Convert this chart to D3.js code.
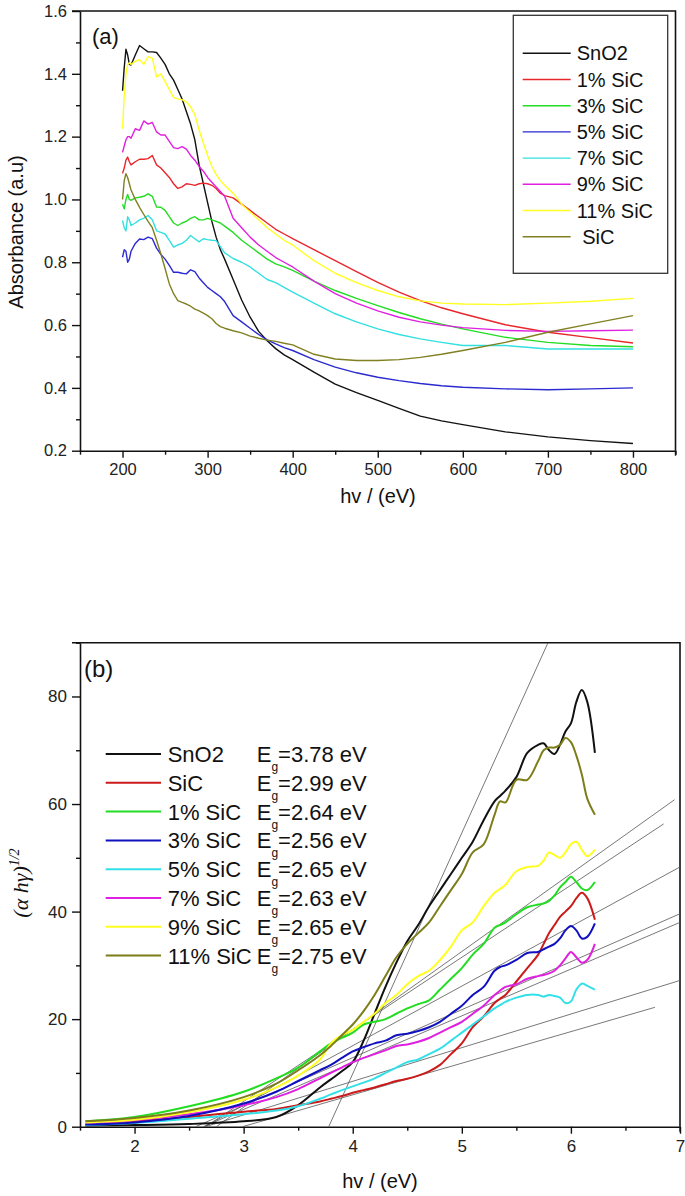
<!DOCTYPE html>
<html><head><meta charset="utf-8">
<script src="https://cdn.jsdelivr.net/npm/d3@7"></script>
<style>
body{margin:0;background:#fff;}
svg{display:block;font-family:"Liberation Sans",Arial,sans-serif;}
</style></head>
<body><svg id="c" width="685" height="1196"></svg>
<script>
// ---------- Panel (a) data ----------
const topX = [200,202,204,206,208,210,215,220,225,230,235,240,245,250,255,260,265,270,275,280,285,290,295,300,305,310,315,320,330,340,350,360,370,380,390,400,425,450,475,500,525,550,575,600,650,700,750,800];
const aSnO2 = [1.346,1.42,1.478,1.46,1.43,1.428,1.46,1.49,1.48,1.47,1.47,1.468,1.45,1.43,1.40,1.38,1.35,1.32,1.28,1.24,1.19,1.11,1.05,0.99,0.93,0.88,0.84,0.81,0.745,0.68,0.625,0.58,0.55,0.525,0.505,0.49,0.45,0.412,0.385,0.36,0.335,0.31,0.295,0.283,0.26,0.244,0.232,0.223];
const a1 = [1.083,1.10,1.125,1.135,1.12,1.11,1.12,1.128,1.128,1.13,1.14,1.11,1.10,1.085,1.07,1.05,1.035,1.04,1.05,1.048,1.045,1.05,1.052,1.05,1.045,1.035,1.02,1.012,1.005,0.985,0.965,0.945,0.925,0.905,0.89,0.875,0.84,0.805,0.77,0.736,0.705,0.678,0.655,0.636,0.601,0.577,0.56,0.543];
const a3 = [0.985,0.97,1.0,1.016,1.0,0.997,1.005,1.007,1.01,1.018,1.01,0.976,0.975,0.965,0.945,0.925,0.917,0.925,0.93,0.94,0.945,0.935,0.935,0.94,0.935,0.93,0.925,0.915,0.895,0.87,0.85,0.83,0.81,0.795,0.785,0.774,0.74,0.71,0.685,0.662,0.64,0.62,0.603,0.588,0.561,0.545,0.535,0.531];
const a5 = [0.816,0.84,0.835,0.80,0.81,0.835,0.86,0.874,0.872,0.88,0.875,0.845,0.825,0.81,0.79,0.768,0.768,0.765,0.763,0.776,0.77,0.75,0.735,0.72,0.71,0.70,0.69,0.675,0.63,0.61,0.59,0.57,0.553,0.54,0.528,0.519,0.49,0.466,0.448,0.434,0.423,0.414,0.407,0.402,0.397,0.394,0.397,0.40];
const a7 = [0.933,0.91,0.90,0.945,0.935,0.917,0.925,0.935,0.94,0.949,0.935,0.90,0.895,0.89,0.87,0.848,0.855,0.86,0.87,0.885,0.875,0.865,0.875,0.872,0.87,0.869,0.85,0.83,0.812,0.80,0.785,0.765,0.745,0.735,0.72,0.705,0.67,0.636,0.61,0.588,0.57,0.556,0.545,0.535,0.535,0.524,0.524,0.524];
const a9 = [1.15,1.17,1.19,1.20,1.20,1.195,1.225,1.22,1.25,1.24,1.245,1.215,1.205,1.205,1.185,1.165,1.162,1.168,1.16,1.14,1.125,1.105,1.09,1.07,1.055,1.04,1.025,1.01,0.94,0.91,0.88,0.855,0.835,0.815,0.80,0.785,0.74,0.70,0.67,0.645,0.625,0.61,0.60,0.592,0.583,0.58,0.582,0.584];
const a11 = [1.225,1.33,1.40,1.43,1.435,1.43,1.44,1.445,1.43,1.455,1.45,1.39,1.40,1.375,1.35,1.325,1.32,1.318,1.31,1.295,1.27,1.22,1.18,1.14,1.105,1.08,1.06,1.045,1.02,0.985,0.96,0.935,0.91,0.89,0.87,0.855,0.805,0.765,0.735,0.71,0.69,0.677,0.67,0.667,0.665,0.67,0.676,0.685];
const aSiC = [1.0,1.06,1.082,1.07,1.05,1.03,1.0,0.975,0.952,0.93,0.91,0.87,0.827,0.78,0.731,0.70,0.678,0.672,0.667,0.66,0.651,0.645,0.638,0.63,0.62,0.605,0.595,0.59,0.582,0.575,0.565,0.558,0.552,0.548,0.542,0.537,0.507,0.492,0.487,0.487,0.49,0.497,0.507,0.519,0.545,0.577,0.604,0.63];
const aNames = ["SnO2","1% SiC","3% SiC","5% SiC","7% SiC","9% SiC","11% SiC"," SiC"];
const aColors = ["#111111","#e8262b","#22dd22","#2a2ad0","#33e0e0","#e020e0","#ffff22","#808022"];
const aSeries = [aSnO2,a1,a3,a5,a7,a9,a11,aSiC];
const aXTicks = [200,300,400,500,600,700,800];
const aYTicks = [0.2,0.4,0.6,0.8,1.0,1.2,1.4,1.6];

// ---------- Panel (b) data ----------
const botX = [1.55,2.0,2.5,3.0,3.3,3.5,3.7,3.8,3.9,4.0,4.1,4.2,4.3,4.4,4.5,4.6,4.7,4.8,4.9,5.0,5.1,5.2,5.3,5.35,5.4,5.5,5.6,5.7,5.75,5.8,5.85,5.9,5.95,6.0,6.05,6.1,6.15,6.22];
const bSnO2 = [0.2,0.3,0.5,1.0,1.8,4.0,7.3,8.8,10.3,12,16,21,26,30.5,34.5,37.5,41,44,47,50,53,57,60.5,61.5,62.5,65,69.5,71,71.3,70,69.3,71,73.5,75,79,81.2,79,69.5];
const bSiC = [0.4,1.0,1.8,2.8,3.3,4.0,4.7,5.2,5.7,6.3,6.8,7.3,7.9,8.5,8.9,9.5,10.3,11.5,13.5,15.5,18.5,20.5,23,23.8,24.5,27,29.5,32,34,36,37.5,39,40,41,42.5,43.5,42.5,38.5];
const b1 = [1.0,1.8,3.8,6.5,9,11,14,15.5,16.5,17.5,19,19.5,20,21,22,22.8,23.5,25.5,27.5,29.5,32,34,37,37.5,38,39.5,40.8,41.3,41.5,42,43,44.5,45.5,46.5,45.5,44.3,44,45.5];
const b3 = [0.4,0.8,2.0,4.3,6.5,8.5,10.5,11.5,12.8,14,14.8,15.5,16,17,17.3,17.8,18.5,19.5,21,22.5,24.5,26,29,29.7,30,31,32.3,32.5,33,33.5,34,35,36.5,37.3,36.5,35,35.3,37.8];
const b5 = [0.3,0.7,1.5,2.3,3.0,3.8,5.2,6.0,6.8,7.5,8.2,9.0,10,11,12,12.5,13.5,14.5,16,17.5,19,20.5,22,22.6,23.2,24,24.5,24.5,24.2,24.5,24.3,24,23,23.3,25.5,26.6,26.2,25.5];
const b7 = [0.6,1.2,2.3,4.0,5.5,7.0,9.0,10,11,12,12.8,13.5,14.2,15,15.3,15.8,16.5,17.5,18.5,19.5,21,22.5,24.5,25.3,26,26.5,27.5,28,28.2,28.5,29,30,31.3,32.5,31.5,30.5,31,34];
const b9 = [0.8,1.3,2.7,5,7.3,9.5,12.5,15.5,17,18,19.5,21,23,24.5,26.5,28,29,31,33.5,36.5,38,41,43.5,44.2,45,47.5,48.3,48.5,49.5,51,50.5,50,51,52.5,53,51.5,50.3,51.5];
const b11 = [1.0,1.6,3.0,5.5,8,10.5,13.3,15,17,19,21.5,24.5,28,31.5,34,36,38,41,44,47,51,52.5,58,60.5,60.3,64.5,64.5,68,70,70.5,70.5,71,72.3,71.5,69,65.5,61,58];
const bNames = ["SnO2","SiC","1% SiC","3% SiC","5% SiC","7% SiC","9% SiC","11% SiC"];
const bEg = ["3.78","2.99","2.64","2.56","2.65","2.63","2.65","2.75"];
const bColors = ["#111111","#cc1a1a","#22dd22","#1010c0","#33e0e8","#e020e0","#ffff22","#7d7d1a"];
const bSeries = [bSnO2,bSiC,b1,b3,b5,b7,b9,b11];
// tangent (fit) lines: x-intercept (Eg) and far end point
const tanStart = [3.78,2.75,2.65,2.64,2.56,2.63,2.65,2.99];
const tanEndX  = [5.79,6.95,6.85,7.0,7.0,7.0,7.0,6.77];
const tanEndY  = [90,60.8,56.3,48.3,39.6,38.0,27.2,22.2];
const bXTicks = [2,3,4,5,6,7];
const bYTicks = [0,20,40,60,80];

const svg = d3.select("#c");

function drawAxes(g, x, y, xMajor, xMinor, yMajor, yMinor, fmtX, fmtY, fs){
  const [x0,x1] = x.range(), [y0,y1] = y.range();
  g.append("g").attr("transform",`translate(0,${y0})`)
    .call(d3.axisBottom(x).tickValues(xMinor).tickSize(4).tickSizeOuter(0).tickFormat(""))
    .call(s=>s.select(".domain").remove());
  g.append("g").attr("transform",`translate(${x0},0)`)
    .call(d3.axisLeft(y).tickValues(yMinor).tickSize(4).tickSizeOuter(0).tickFormat(""))
    .call(s=>s.select(".domain").remove());
  const xa = g.append("g").attr("transform",`translate(0,${y0})`)
    .call(d3.axisBottom(x).tickValues(xMajor).tickSize(7).tickSizeOuter(0).tickPadding(6).tickFormat(fmtX));
  const ya = g.append("g").attr("transform",`translate(${x0},0)`)
    .call(d3.axisLeft(y).tickValues(yMajor).tickSize(8).tickSizeOuter(0).tickPadding(5).tickFormat(fmtY));
  [xa,ya].forEach(a=>{
    a.selectAll("text").attr("font-size",fs).attr("fill","#222").attr("font-family","Liberation Sans, Arial, sans-serif");
    a.select(".domain").attr("stroke","#111").attr("stroke-width",1.6);
  });
  g.selectAll("g.tick line").attr("stroke","#111").attr("stroke-width",1.4);
  g.append("path").attr("d",`M${x0-8},${y1}H${x1}V${y0}`).attr("fill","none").attr("stroke","#111").attr("stroke-width",1.6);
  g.append("line").attr("x1",x1).attr("x2",x1).attr("y1",y0).attr("y2",y0+5).attr("stroke","#111").attr("stroke-width",1.4);
}

// ---------- Panel (a) ----------
const xA = d3.scaleLinear().domain([150,850]).range([80,675.5]);
const yA = d3.scaleLinear().domain([0.2,1.6]).range([450.7,11]);
const gA = svg.append("g");
drawAxes(gA, xA, yA, aXTicks, d3.range(150,851,50).filter(v=>!aXTicks.includes(v)),
  aYTicks, [0.3,0.5,0.7,0.9,1.1,1.3,1.5], d3.format("d"), d3.format(".1f"), 16.5);
const lineA = d3.line().x((d,i)=>xA(topX[i])).y(d=>yA(d));
gA.selectAll("path.sa").data(aSeries).join("path").attr("class","sa")
  .attr("d",lineA).attr("fill","none").attr("stroke",(d,i)=>aColors[i]).attr("stroke-width",1.4)
  .attr("stroke-linejoin","round");
gA.append("text").attr("x",92).attr("y",44).attr("font-size",22).attr("fill","#111").text("(a)");
const legA = gA.append("g");
legA.append("rect").attr("x",513.3).attr("y",15.3).attr("width",154.4).attr("height",258)
  .attr("fill","#fff").attr("stroke","#333").attr("stroke-width",1.3);
aNames.forEach((n,i)=>{
  const yy = 53.3 + i*26.2;
  legA.append("line").attr("x1",522.7).attr("x2",570.7).attr("y1",yy).attr("y2",yy)
    .attr("stroke",aColors[i]).attr("stroke-width",1.4);
  legA.append("text").attr("x",576.7).attr("y",yy+7).attr("font-size",20).attr("fill","#111")
    .attr("xml:space","preserve").style("white-space","pre").text(n);
});
gA.append("text").attr("transform","translate(23,232) rotate(-90)").attr("text-anchor","middle")
  .attr("font-size",20).attr("fill","#111").text("Absorbance (a.u)");
gA.append("text").attr("x",378).attr("y",503).attr("text-anchor","middle")
  .attr("font-size",20).attr("fill","#111").text("hv / (eV)");

// ---------- Panel (b) ----------
const xB = d3.scaleLinear().domain([1.5,7]).range([80,680]);
const yB = d3.scaleLinear().domain([0,90]).range([1126.7,642.7]);
const gB = svg.append("g");
drawAxes(gB, xB, yB, bXTicks, [1.5,2.5,3.5,4.5,5.5,6.5], bYTicks, [10,30,50,70,90], d3.format("d"), d3.format("d"), 17);
gB.append("clipPath").attr("id","clipB").append("rect")
  .attr("x",80).attr("y",642.7).attr("width",600).attr("height",484);
const tanG = gB.append("g").attr("clip-path","url(#clipB)");
tanStart.forEach((s,i)=>{
  tanG.append("line").attr("x1",xB(s)).attr("y1",yB(0)).attr("x2",xB(tanEndX[i])).attr("y2",yB(tanEndY[i]))
    .attr("stroke","#555").attr("stroke-width",0.8);
});
const lineB = d3.line().x((d,i)=>xB(botX[i])).y(d=>yB(d)).curve(d3.curveCatmullRom.alpha(0.5));
const drawOrder = [0,1,4,5,3,2,6,7];
gB.selectAll("path.sb").data(drawOrder).join("path").attr("class","sb")
  .attr("d",i=>lineB(bSeries[i])).attr("fill","none").attr("stroke",i=>bColors[i]).attr("stroke-width",2)
  .attr("stroke-linejoin","round");
gB.append("text").attr("x",84).attr("y",677).attr("font-size",24).attr("fill","#111").text("(b)");
bNames.forEach((n,i)=>{
  const yy = 754 + i*28.8;
  gB.append("line").attr("x1",105.7).attr("x2",161).attr("y1",yy).attr("y2",yy)
    .attr("stroke",bColors[i]).attr("stroke-width",2);
  gB.append("text").attr("x",167.7).attr("y",yy+8).attr("font-size",22).attr("fill","#111").text(n);
  const t = gB.append("text").attr("x",256.7).attr("y",yy+8).attr("font-size",22).attr("fill","#111");
  t.append("tspan").text("E");
  t.append("tspan").attr("font-size",12).attr("dy",9).text("g");
  t.append("tspan").attr("dy",-9).text("=" + bEg[i] + " eV");
});
const yl = gB.append("text").attr("transform","translate(28,883) rotate(-90)").attr("text-anchor","middle")
  .attr("font-family","Liberation Serif, Times New Roman, serif").attr("font-style","italic")
  .attr("font-size",22).attr("fill","#111");
yl.append("tspan").text("(α hγ)");
yl.append("tspan").attr("font-size",14).attr("dy",-9).text("1/2");
gB.append("text").attr("x",380).attr("y",1188).attr("text-anchor","middle")
  .attr("font-size",20).attr("fill","#111").text("hv / (eV)");
</script></body></html>
